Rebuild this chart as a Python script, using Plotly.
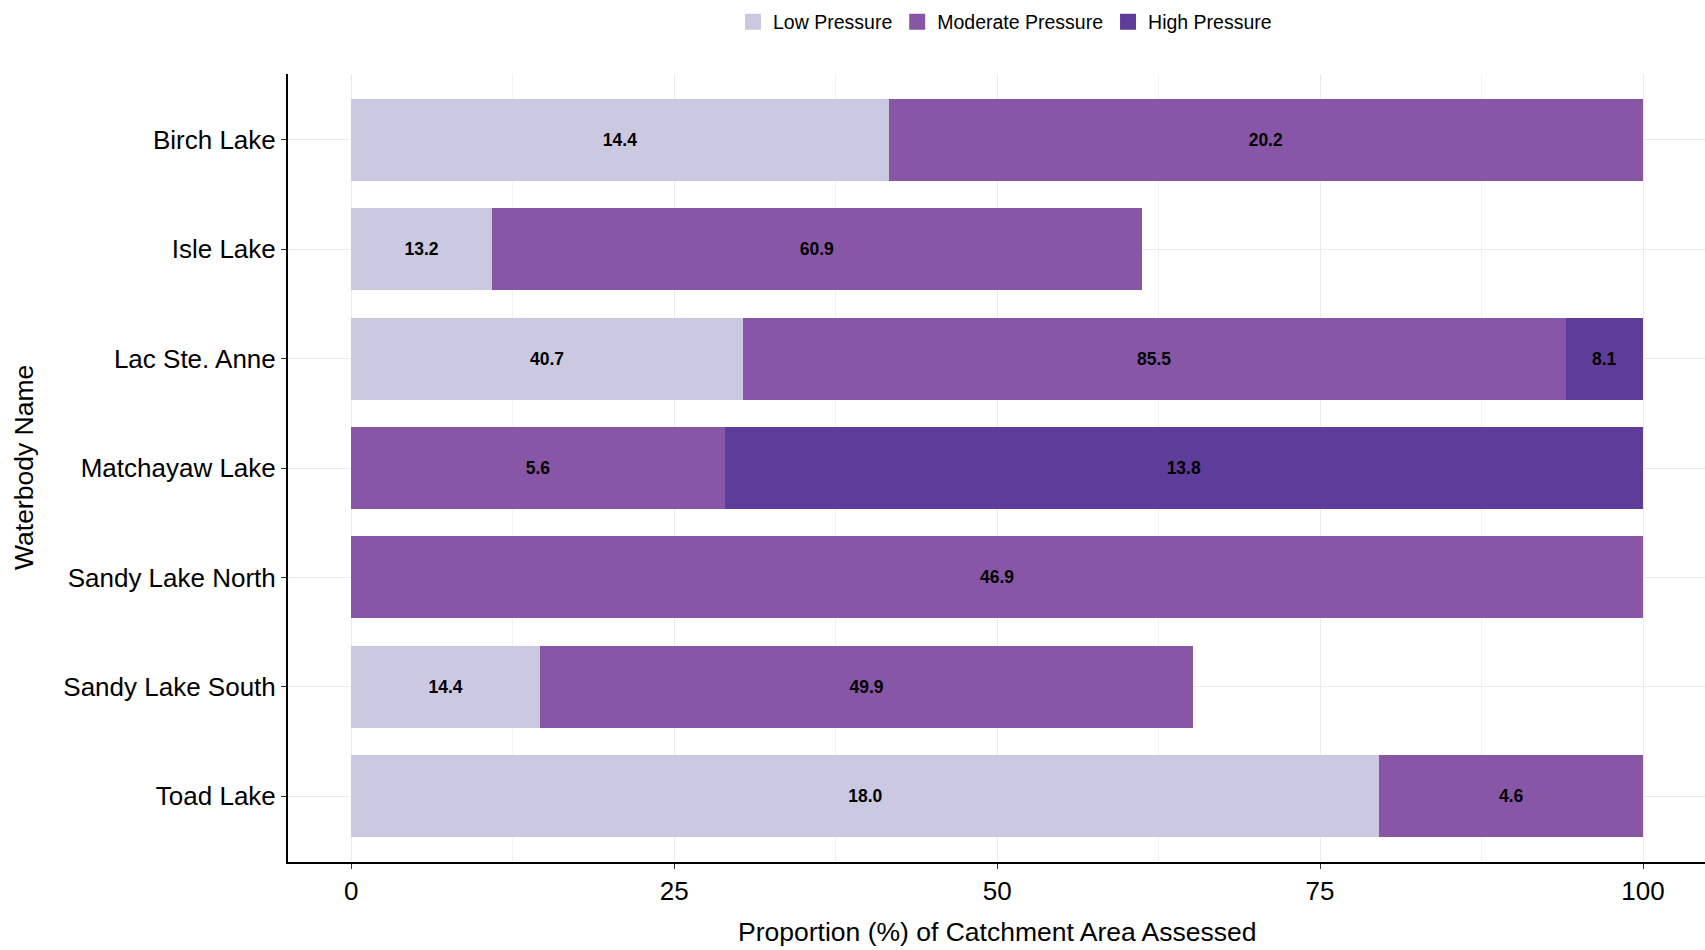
import plotly.graph_objects as go

lakes = ["Birch Lake", "Isle Lake", "Lac Ste. Anne", "Matchayaw Lake",
         "Sandy Lake North", "Sandy Lake South", "Toad Lake"]

# Proportion (%) of catchment area (bar lengths)
low_pct = [41.6, 10.9, 30.3, None, None, 14.6, 79.6]
mod_pct = [58.4, 50.3, 63.7, 28.9, 100.0, 50.6, 20.4]
high_pct = [None, None, 6.0, 71.1, None, None, None]

# Area labels shown in the bars
low_area = [14.4, 13.2, 40.7, None, None, 14.4, 18.0]
mod_area = [20.2, 60.9, 85.5, 5.6, 46.9, 49.9, 4.6]
high_area = [None, None, 8.1, 13.8, None, None, None]

series = [
    ("Low Pressure", low_pct, low_area, "#CBC9E2"),
    ("Moderate Pressure", mod_pct, mod_area, "#8856A7"),
    ("High Pressure", high_pct, high_area, "#5E3C99"),
]

FONT = "Liberation Sans, Arial, sans-serif"
W, H = 1705, 950
ML, MR, MT, MB = 288, 0, 74, 88

fig = go.Figure()
for name, pct, area, color in series:
    fig.add_trace(go.Bar(
        y=lakes, x=pct, name=name, orientation="h",
        marker=dict(color=color, line=dict(width=0)),
        text=[f"<b>{a:.1f}</b>" if a is not None else "" for a in area],
        textposition="inside", insidetextanchor="middle",
        textfont=dict(family=FONT, size=17.5, color="black"),
        showlegend=False, legendgroup=name,
        hoverinfo="x+y",
    ))
# legend entries with larger square swatches
for name, pct, area, color in series:
    fig.add_trace(go.Scatter(
        x=[None], y=[None], mode="markers", name=name, legendgroup=name,
        marker=dict(symbol="square", size=24, color=color),
        showlegend=True,
    ))

ph = H - MT - MB
fig.update_layout(
    barmode="stack",
    bargap=0.25,
    width=W, height=H,
    margin=dict(l=ML, r=MR, t=MT, b=MB, autoexpand=False),
    plot_bgcolor="white", paper_bgcolor="white",
    font=dict(family=FONT, color="black"),
    legend=dict(orientation="h", x=0.506, xanchor="center",
                y=1 + (MT - 22) / ph, yanchor="middle",
                font=dict(size=19.5, family=FONT, color="black"), traceorder="normal",
                itemsizing="trace", tracegroupgap=0),
    xaxis=dict(
        range=[-4.9, 104.8], tickvals=[0, 25, 50, 75, 100],
        showgrid=True, gridcolor="#EBEBEB", gridwidth=1.2,
        minor=dict(tickvals=[12.5, 37.5, 62.5, 87.5], showgrid=True,
                   gridcolor="#F2F2F2", gridwidth=1),
        showline=True, linecolor="black", linewidth=2,
        ticks="outside", ticklen=5, tickcolor="#333333",
        tickfont=dict(size=26, family=FONT, color="black"),
        automargin=False, zeroline=False,
    ),
    yaxis=dict(
        categoryorder="array", categoryarray=lakes,
        range=[6.6, -0.6],
        showgrid=True, gridcolor="#EBEBEB", gridwidth=1.2,
        showline=True, linecolor="black", linewidth=2,
        ticks="outside", ticklen=5, tickcolor="#333333",
        tickfont=dict(size=26, family=FONT, color="black"),
        automargin=False,
    ),
    annotations=[
        dict(text="Proportion (%) of Catchment Area Assessed", xref="paper", yref="paper",
             x=0.5, y=-(932 - (H - MB)) / ph, xanchor="center", yanchor="middle",
             showarrow=False, font=dict(size=26.5, family=FONT, color="black")),
        dict(text="Waterbody Name", xref="paper", yref="paper",
             x=-(ML - 24) / (W - ML - MR), y=0.5, xanchor="center", yanchor="middle",
             textangle=-90, showarrow=False,
             font=dict(size=26.5, family=FONT, color="black")),
    ],
)

fig.write_html("out.html", config={"displayModeBar": False},
               post_script="document.body.style.margin='0';document.body.style.overflow='hidden';")
